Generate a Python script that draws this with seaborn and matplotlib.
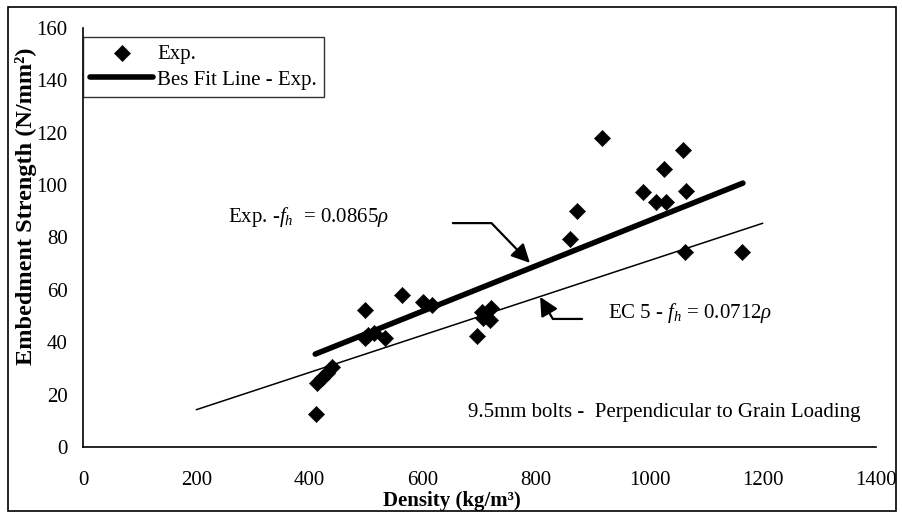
import numpy as np
import pandas as pd
import matplotlib
matplotlib.use("Agg")
import matplotlib.pyplot as plt
import seaborn as sns

# ---- data ----
density = [411, 413, 422, 431, 440,
           498, 498, 504, 513, 533, 564, 601, 616,
           696, 704, 706, 718, 721,
           860, 873, 916, 988, 1012, 1026, 1030, 1059, 1065, 1063, 1163]
strength = [12.6, 24.4, 26.3, 28.3, 30.5,
            52.3, 41.5, 42.8, 43.4, 41.5, 58.0, 55.5, 54.2,
            42.5, 51.7, 49.3, 48.5, 53.0,
            79.3, 90.1, 117.9, 97.5, 93.7, 106.0, 93.7, 113.4, 97.9, 74.3, 74.3]

fit_slope = 0.0865
fit_x = [410, 1165]
ec5_slope = 0.0712
ec5_x = [200, 1200]

x_ticks = [0, 200, 400, 600, 800, 1000, 1200, 1400]
y_ticks = [0, 20, 40, 60, 80, 100, 120, 140, 160]

sns.set_theme(style="white")
plt.rcParams["font.family"] = ["Liberation Serif", "DejaVu Serif"]
plt.rcParams["mathtext.fontset"] = "custom"
plt.rcParams["mathtext.rm"] = "Liberation Serif"
plt.rcParams["mathtext.it"] = "Liberation Serif:italic"
plt.rcParams["text.color"] = "black"
plt.rcParams["axes.labelcolor"] = "black"

W, H = 902, 516
fig = plt.figure(figsize=(W / 100, H / 100), dpi=100)
ax = fig.add_axes([83 / W, 1 - 447 / H, (876 - 83) / W, (447 - 28) / H])

df_pts = pd.DataFrame({"Density": density, "Strength": strength})
df_fit = pd.DataFrame({"x": fit_x, "y": [fit_slope * v for v in fit_x]})
df_ec5 = pd.DataFrame({"x": ec5_x, "y": [ec5_slope * v for v in ec5_x]})

sns.lineplot(data=df_ec5, x="x", y="y", color="black", linewidth=1.1, ax=ax)
sns.lineplot(data=df_fit, x="x", y="y", color="black", linewidth=4.0,
             solid_capstyle="round", ax=ax, label="Bes Fit Line - Exp.")
sns.scatterplot(data=df_pts, x="Density", y="Strength", marker="D", s=68,
                color="black", edgecolor="black", linewidth=0.4, ax=ax,
                label="Exp.", zorder=5)

ax.set_xlim(0, 1400)
ax.set_ylim(0, 160)
ax.set_xticks(x_ticks)
ax.set_yticks(y_ticks)
ax.tick_params(axis="both", direction="out", length=5, width=1,
               colors="black", labelsize=15)
ax.tick_params(axis="x", pad=12)
ax.tick_params(axis="y", pad=6)
for s in ["top", "right"]:
    ax.spines[s].set_visible(False)
for s in ["left", "bottom"]:
    ax.spines[s].set_color("black")
    ax.spines[s].set_linewidth(1.2)

ax.set_xlabel("Density (kg/m³)", fontsize=15, fontweight="bold")
ax.set_ylabel("Embedment Strength (N/mm²)", fontsize=17.5, fontweight="bold")
ax.xaxis.set_label_coords((452 - 83) / 793, -0.104)
ax.yaxis.set_label_coords(-(83 - 37) / 793, 0.575)

# legend: diamond first, then line
handles, labels = ax.get_legend_handles_labels()
order = [labels.index("Exp."), labels.index("Bes Fit Line - Exp.")]
leg = ax.legend([handles[i] for i in order], [labels[i] for i in order],
                loc="upper left", bbox_to_anchor=(0.0, (447 - 37) / 419),
                borderaxespad=0, frameon=True, fancybox=False, fontsize=15,
                handlelength=3.0, handletextpad=0.2, borderpad=0.35,
                labelspacing=0.3)
leg.get_frame().set_edgecolor("black")
leg.get_frame().set_linewidth(1.0)

# annotations
ax.text(256, 87.8, r"Exp. -$f_h$  = 0.0865$\rho$", fontsize=15, va="center", ha="left")
ax.text(927, 51.2, r"EC 5 - $f_h$ = 0.0712$\rho$", fontsize=15, va="center", ha="left")
ax.text(680, 13.0, "9.5mm bolts -  Perpendicular to Grain Loading",
        fontsize=15, va="center", ha="left")

ax.annotate("", xy=(789, 70.3), xytext=(653, 85.5),
            arrowprops=dict(arrowstyle="-|>", color="black", lw=1.6,
                            mutation_scale=28,
                            connectionstyle="angle,angleA=0,angleB=134,rad=0",
                            shrinkA=0, shrinkB=0))
ax.annotate("", xy=(807, 57.3), xytext=(881, 48.9),
            arrowprops=dict(arrowstyle="-|>", color="black", lw=1.6,
                            mutation_scale=28,
                            connectionstyle="angle,angleA=180,angleB=120,rad=0",
                            shrinkA=0, shrinkB=0))

# outer chart frame
fig.patches.append(plt.Rectangle((8 / W, 1 - 511 / H), (896 - 8) / W, (511 - 7) / H,
                                 transform=fig.transFigure, fill=False,
                                 edgecolor="black", linewidth=1.2))

fig.savefig("out.png", dpi=100)
